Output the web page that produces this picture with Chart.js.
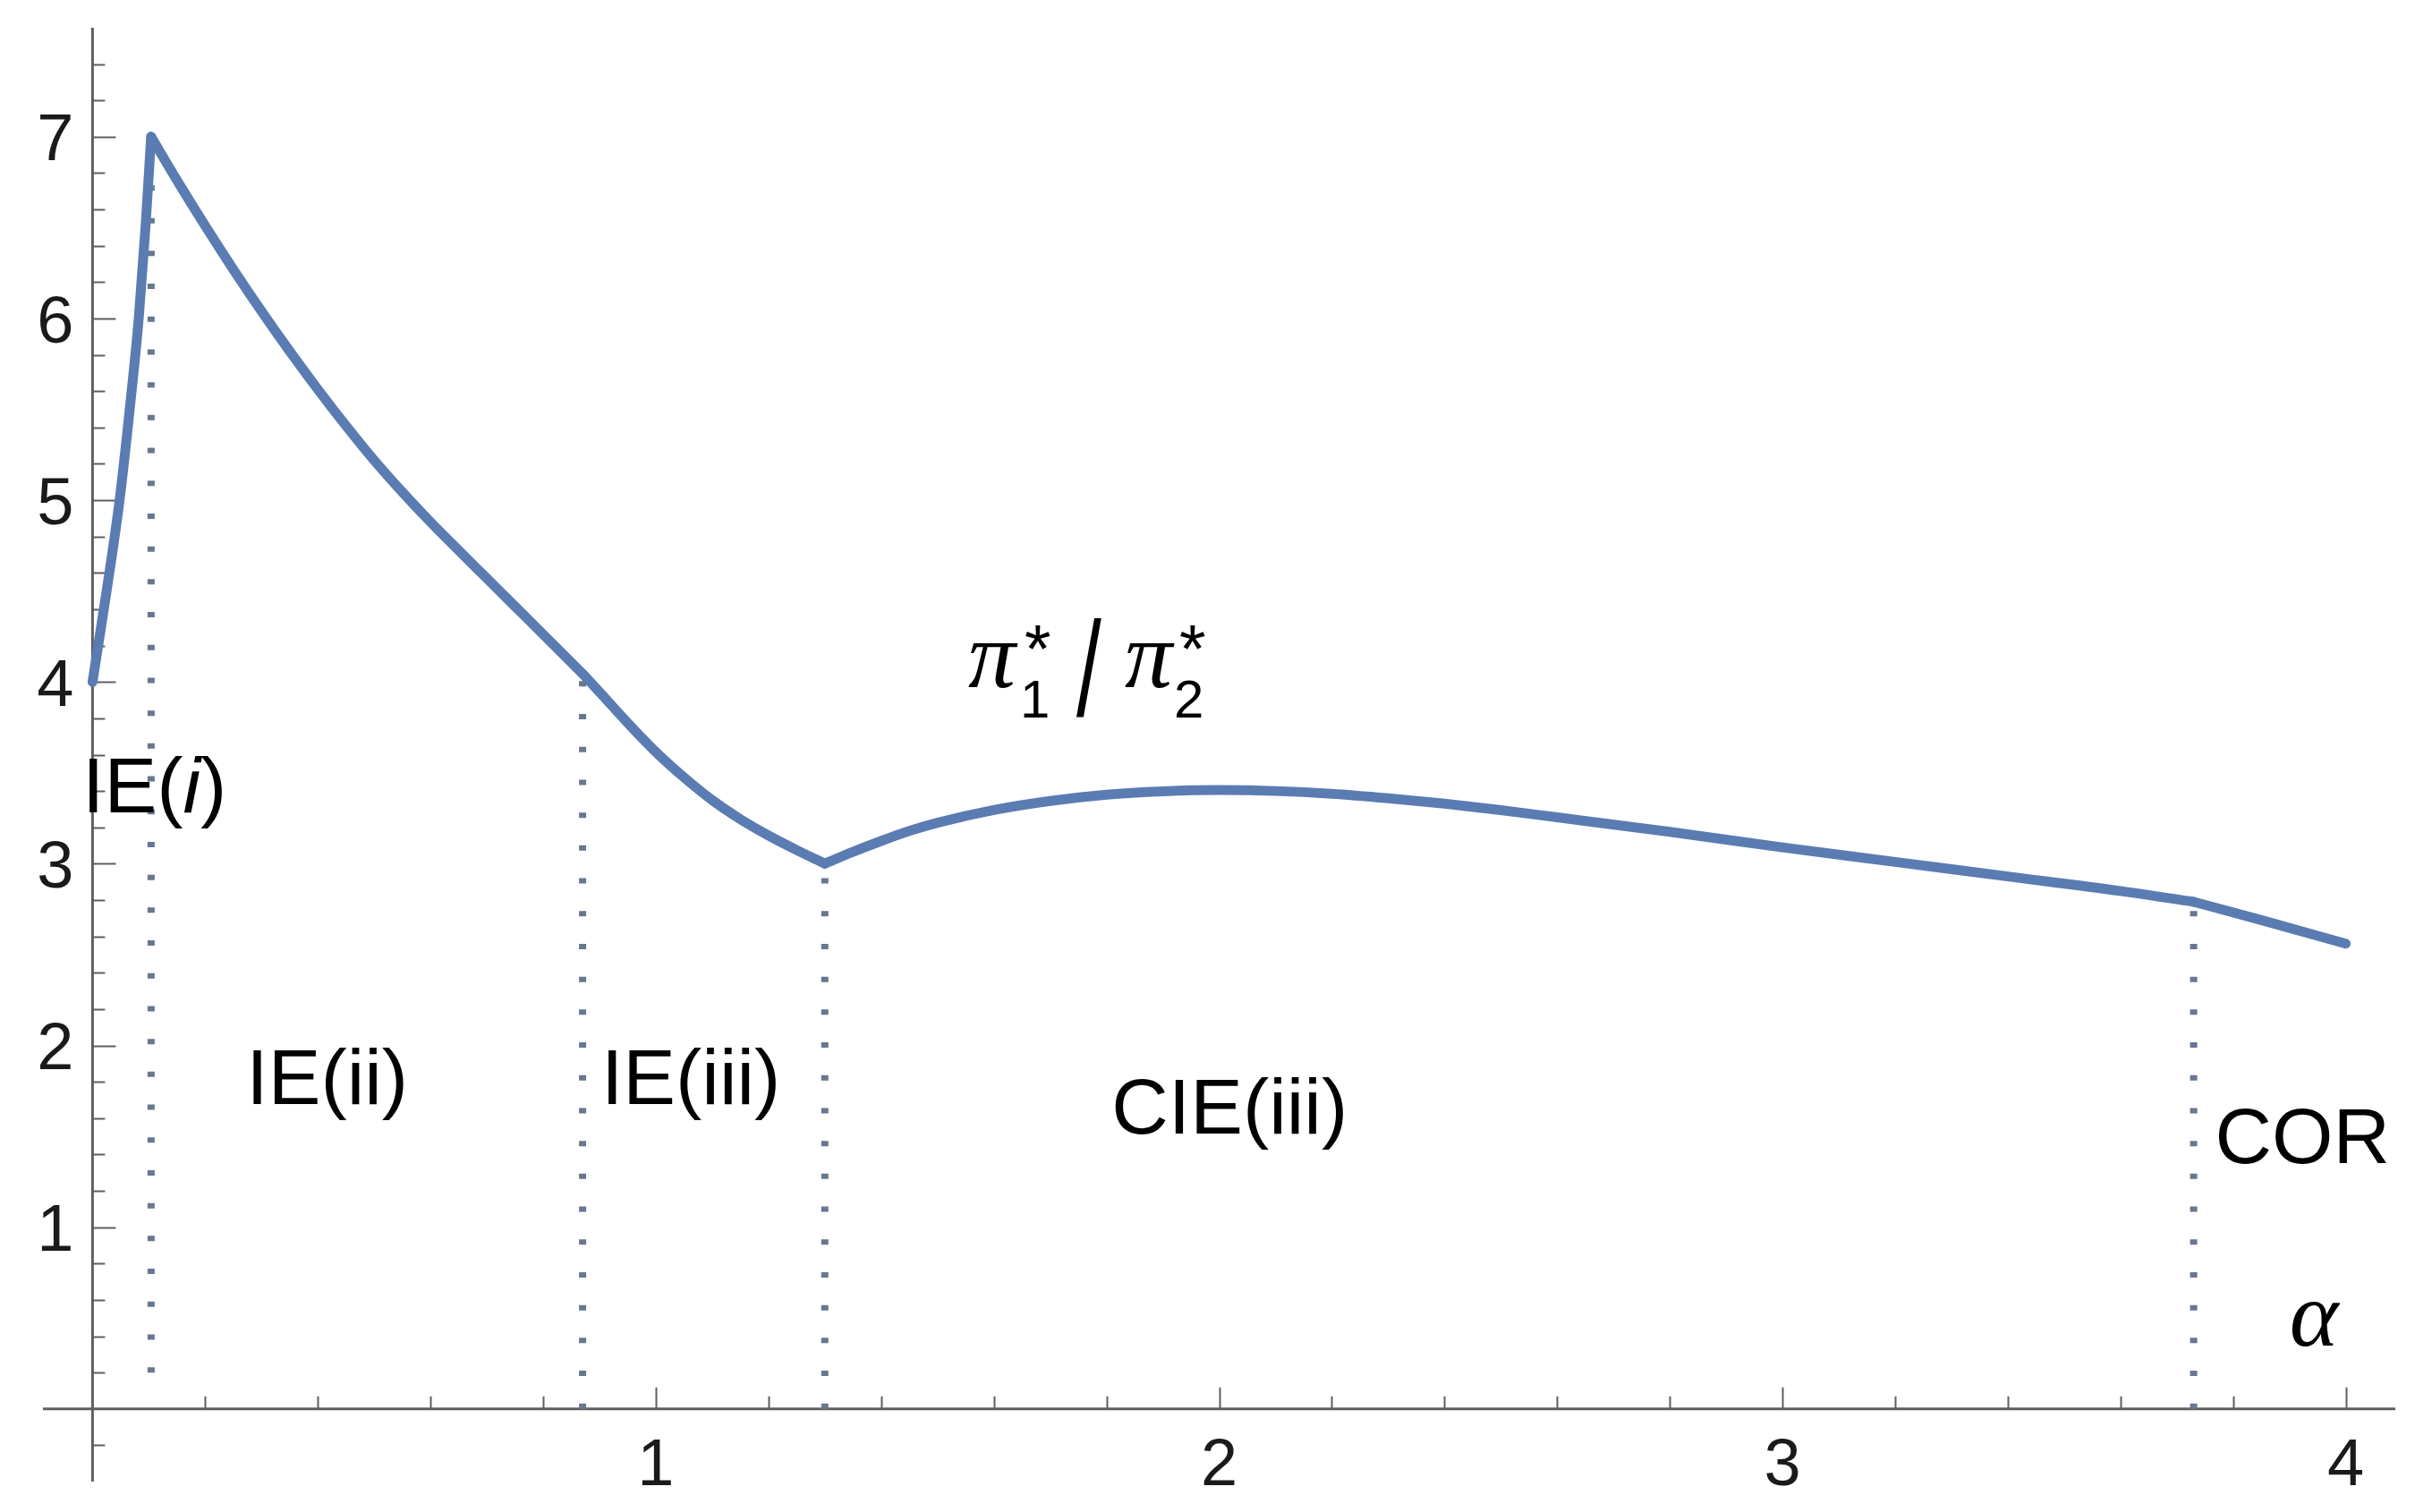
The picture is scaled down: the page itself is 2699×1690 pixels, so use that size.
<!DOCTYPE html>
<html><head><meta charset="utf-8">
<script src="https://cdn.jsdelivr.net/npm/chart.js@4"></script>
<style>html,body{margin:0;padding:0;background:#fff;overflow:hidden}canvas{display:block}</style>
</head><body>
<canvas id="c" width="2699" height="1690"></canvas>
<script>
// ---- data ----
const alpha = [0, 0.025, 0.048, 0.066, 0.082, 0.094, 0.104,
  0.15, 0.2, 0.25, 0.3, 0.35, 0.4, 0.45, 0.5, 0.55, 0.6, 0.65, 0.7, 0.75, 0.8, 0.87,
  0.9, 0.95, 1.0, 1.05, 1.1, 1.15, 1.2, 1.25, 1.3,
  1.35, 1.4, 1.45, 1.5, 1.6, 1.7, 1.8, 1.9, 2.0, 2.1, 2.2, 2.3, 2.4, 2.5, 2.6,
  2.8, 3.0, 3.2, 3.4, 3.6, 3.73, 3.85, 4.0];
const ratio = [4.0, 4.5, 5.0, 5.5, 6.0, 6.5, 7.0,
  6.76, 6.51, 6.27, 6.04, 5.82, 5.61, 5.41, 5.22, 5.045, 4.88, 4.724, 4.57, 4.416, 4.262, 4.045,
  3.945, 3.775, 3.615, 3.475, 3.35, 3.245, 3.155, 3.075, 3.0,
  3.065, 3.125, 3.18, 3.225, 3.295, 3.345, 3.38, 3.398, 3.405, 3.40, 3.385, 3.36, 3.33, 3.295, 3.255,
  3.175, 3.09, 3.01, 2.93, 2.85, 2.79, 2.69, 2.56];

// regime boundaries (dotted verticals, also the kinks of the curve)
const boundaryAlpha  = [0.104, 0.87, 1.3, 3.73];
const boundaryTop    = [7.0, 4.045, 3.0, 2.79];
const boundaryBottom = [0.2, 0.0, 0.0, 0.0];

// tick labels
const xTickValues = [1, 2, 3, 4];
const xTickLabels = ['1', '2', '3', '4'];
const yTickValues = [1, 2, 3, 4, 5, 6, 7];
const yTickLabels = ['1', '2', '3', '4', '5', '6', '7'];

// region labels (text parts; second item 1 = italic)
const regionLabels = [
  [['IE(', 0], ['i', 1], [')', 0]],
  [['IE(ii)', 0]],
  [['IE(iii)', 0]],
  [['CIE(iii)', 0]],
  [['COR', 0]]
];
// ---- layout (label anchors in data coordinates, separate from data) ----
const regionLabelPos = [[-0.018, 3.284], [0.273, 1.68], [0.903, 1.68], [1.809, 1.516], [3.768, 1.354]];
const alphaLabelPos = [3.9, 0.35];
const ratioLabelPos = [1.5545, 3.973];

const SANS = '"Liberation Sans", Arial, sans-serif';
const SERIF = '"Liberation Serif", "Times New Roman", serif';
const AXIS = '#5f5f5f';
const LINE = '#5a7cb2';

function drawParts(ctx, parts, x, y, size) {
  ctx.textAlign = 'left';
  ctx.textBaseline = 'alphabetic';
  let cx = x;
  for (const [t, it] of parts) {
    ctx.font = (it ? 'italic ' : '') + size + 'px ' + SANS;
    ctx.fillText(t, cx, y);
    cx += ctx.measureText(t).width;
  }
}

const axesPlugin = {
  id: 'mathAxes',
  beforeDatasetsDraw(chart) {
    const { ctx, scales: { x, y } } = chart;
    const x0 = x.getPixelForValue(0), y0 = y.getPixelForValue(0);
    ctx.save();
    ctx.strokeStyle = AXIS;
    ctx.lineWidth = 3;
    ctx.beginPath();
    ctx.moveTo(x.left, y0); ctx.lineTo(x.right, y0);
    ctx.moveTo(x0, y.top); ctx.lineTo(x0, y.bottom);
    ctx.stroke();
    ctx.lineWidth = 2;
    ctx.beginPath();
    for (let i = 1; i <= 20; i++) {
      const px = Math.round(x.getPixelForValue(i * 0.2)) + 0.5;
      ctx.moveTo(px, y0); ctx.lineTo(px, y0 - (i % 5 === 0 ? 24 : 14));
    }
    for (let i = -1; i <= 37; i++) {
      if (i === 0) continue;
      const py = Math.round(y.getPixelForValue(i * 0.2)) + 0.5;
      ctx.moveTo(x0, py); ctx.lineTo(x0 + (i % 5 === 0 ? 26 : 14), py);
    }
    ctx.stroke();
    ctx.fillStyle = '#1a1a1a';
    ctx.font = '74px ' + SANS;
    ctx.textBaseline = 'alphabetic';
    ctx.textAlign = 'center';
    xTickValues.forEach((v, i) => ctx.fillText(xTickLabels[i], x.getPixelForValue(v), y0 + 85));
    ctx.textAlign = 'right';
    yTickValues.forEach((v, i) => ctx.fillText(yTickLabels[i], x0 - 21, y.getPixelForValue(v) + 26.5));
    ctx.restore();
  },
  afterDatasetsDraw(chart) {
    const { ctx, scales: { x, y } } = chart;
    ctx.save();
    ctx.fillStyle = '#000';
    regionLabels.forEach((parts, i) => {
      const [a, b] = regionLabelPos[i];
      drawParts(ctx, parts, x.getPixelForValue(a), y.getPixelForValue(b), 88);
    });
    ctx.textAlign = 'left';
    ctx.textBaseline = 'alphabetic';
    ctx.font = 'italic 104px ' + SERIF;
    ctx.fillText('α', x.getPixelForValue(alphaLabelPos[0]), y.getPixelForValue(alphaLabelPos[1]));
    // pi_1^* / pi_2^*
    const px = x.getPixelForValue(ratioLabelPos[0]), py = y.getPixelForValue(ratioLabelPos[1]);
    ctx.font = 'italic 106px ' + SERIF;
    ctx.fillText('π', px, py);
    ctx.fillText('π', px + 175, py);
    ctx.font = '60px ' + SANS;
    ctx.fillText('1', px + 58, py + 34);
    ctx.fillText('2', px + 230, py + 34);
    ctx.font = '76px ' + SANS;
    ctx.fillText('*', px + 63, py - 17);
    ctx.fillText('*', px + 236, py - 17);
    ctx.save();
    ctx.translate(px + 121, py + 32);
    ctx.scale(1, 1.5);
    ctx.font = '100px ' + SANS;
    ctx.fillText('/', 0, 0);
    ctx.restore();
    ctx.restore();
  }
};

// split the curve at the regime boundaries so the kinks stay sharp
const breaks = [alpha[0], ...boundaryAlpha, alpha[alpha.length - 1]];
const curveSegments = [];
for (let s = 0; s < breaks.length - 1; s++) {
  const pts = [];
  alpha.forEach((a, i) => { if (a >= breaks[s] - 1e-9 && a <= breaks[s + 1] + 1e-9) pts.push({ x: a, y: ratio[i] }); });
  curveSegments.push({
    data: pts, showLine: true, borderColor: LINE, borderWidth: 11,
    pointRadius: 0, cubicInterpolationMode: 'monotone',
    borderJoinStyle: 'round', borderCapStyle: 'round', order: 0
  });
}
const dotted = boundaryAlpha.map((a, i) => ({
  data: [{ x: a, y: boundaryBottom[i] }, { x: a, y: boundaryTop[i] }],
  showLine: true, borderColor: '#687790', borderWidth: 8, borderDash: [6, 30.7],
  borderCapStyle: 'butt', pointRadius: 0, order: 1
}));

new Chart(document.getElementById('c').getContext('2d'), {
  type: 'scatter',
  data: { datasets: [...curveSegments, ...dotted] },
  options: {
    responsive: false, animation: false, devicePixelRatio: 1, events: [],
    layout: { padding: { left: 48, right: 22, top: 31, bottom: 34 } },
    scales: {
      x: { type: 'linear', min: -0.088, max: 4.088, display: false },
      y: { type: 'linear', min: -0.4, max: 7.6, display: false }
    },
    plugins: { legend: { display: false }, tooltip: { enabled: false } }
  },
  plugins: [axesPlugin]
});
</script>
</body></html>
